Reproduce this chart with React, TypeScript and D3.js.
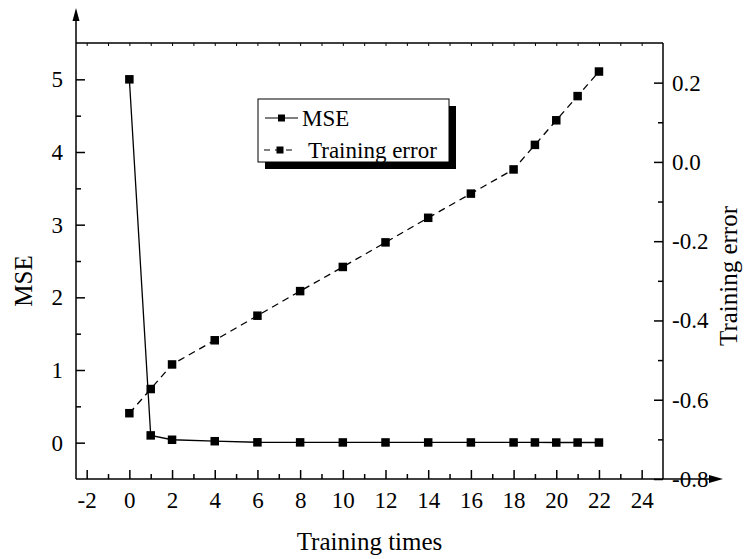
import { useEffect, useRef } from "react";
import * as d3 from "d3";

// training runs on the x axis
const trainingTimes = [0, 1, 2, 4, 6, 8, 10, 12, 14, 16, 18, 19, 20, 21, 22];
// left axis series
const mseValues = [5.0, 0.1, 0.04, 0.02, 0.005, 0.004, 0.003, 0.003, 0.003, 0.003, 0.003, 0.003, 0.002, 0.002, 0.002];
// right axis series
const trainingError = [-0.634, -0.573, -0.511, -0.45, -0.388, -0.326, -0.265, -0.203, -0.141, -0.08, -0.019, 0.043, 0.105, 0.166, 0.228];

const xTicks = [-2, 0, 2, 4, 6, 8, 10, 12, 14, 16, 18, 20, 22, 24];
const xMinorTicks = [-1, 1, 3, 5, 7, 9, 11, 13, 15, 17, 19, 21, 23];
const topTicks = d3.range(-2, 25, 1);
const mseTicks = [0, 1, 2, 3, 4, 5];
const mseMinorTicks = [0.5, 1.5, 2.5, 3.5, 4.5];
const errTicks = [-0.8, -0.6, -0.4, -0.2, 0.0, 0.2];
const errMinorTicks = [-0.7, -0.5, -0.3, -0.1, 0.1];

const legendItems = ["MSE", "Training error"];

const FONT = "'Liberation Serif', 'Times New Roman', serif";

const hyphen = (s: string) => s.replace(/\u2212/g, "-");

const App = () => {
  const ref = useRef<SVGSVGElement>(null);

  useEffect(() => {
    const svg = d3.select(ref.current);
    svg.selectAll("*").remove();

    const left = 76,
      right = 663,
      top = 43,
      bottom = 479;

    const x = d3.scaleLinear().domain([-2.5, 25]).range([left, right]);
    const yL = d3.scaleLinear().domain([-0.5, 5.5]).range([bottom, top]);
    const yR = d3.scaleLinear().domain([-0.8, 0.3]).range([bottom, top]);

    const styleAxis = (g) => {
      g.select(".domain").remove();
      g.selectAll("line").attr("stroke", "#000").attr("stroke-width", 1.5);
      g.selectAll("text")
        .attr("fill", "#000")
        .style("font-family", FONT)
        .style("font-size", "23px");
    };

    // bottom axis
    svg
      .append("g")
      .attr("transform", `translate(0,${bottom})`)
      .call(
        d3
          .axisBottom(x)
          .tickValues(xTicks)
          .tickSize(-9)
          .tickSizeOuter(0)
          .tickPadding(13)
          .tickFormat((d) => hyphen(d3.format("d")(d)))
      )
      .call(styleAxis);
    svg
      .append("g")
      .attr("transform", `translate(0,${bottom})`)
      .call(d3.axisBottom(x).tickValues(xMinorTicks).tickSize(-5).tickSizeOuter(0).tickFormat(() => ""))
      .call(styleAxis);

    // top frame ticks
    svg
      .append("g")
      .attr("transform", `translate(0,${top})`)
      .call(d3.axisTop(x).tickValues(topTicks).tickSize(-3).tickSizeOuter(0).tickFormat(() => ""))
      .call(styleAxis)
      .selectAll("line")
      .attr("stroke-width", 1);

    // left axis
    svg
      .append("g")
      .attr("transform", `translate(${left},0)`)
      .call(
        d3
          .axisLeft(yL)
          .tickValues(mseTicks)
          .tickSize(-9)
          .tickSizeOuter(0)
          .tickPadding(13)
          .tickFormat((d) => hyphen(d3.format("d")(d)))
      )
      .call(styleAxis);
    svg
      .append("g")
      .attr("transform", `translate(${left},0)`)
      .call(d3.axisLeft(yL).tickValues(mseMinorTicks).tickSize(-5).tickSizeOuter(0).tickFormat(() => ""))
      .call(styleAxis);

    // right axis
    svg
      .append("g")
      .attr("transform", `translate(${right},0)`)
      .call(
        d3
          .axisRight(yR)
          .tickValues(errTicks)
          .tickSize(-9)
          .tickSizeOuter(0)
          .tickPadding(9)
          .tickFormat((d) => hyphen(d3.format(".1f")(d)))
      )
      .call(styleAxis);
    svg
      .append("g")
      .attr("transform", `translate(${right},0)`)
      .call(d3.axisRight(yR).tickValues(errMinorTicks).tickSize(-5).tickSizeOuter(0).tickFormat(() => ""))
      .call(styleAxis);

    // frame lines
    const frame = svg.append("g").attr("stroke", "#000").attr("stroke-width", 1.5);
    frame.append("line").attr("x1", left).attr("x2", right).attr("y1", top).attr("y2", top);
    frame.append("line").attr("x1", right).attr("x2", right).attr("y1", top).attr("y2", bottom);
    frame.append("line").attr("x1", left).attr("x2", 712).attr("y1", bottom).attr("y2", bottom);
    frame.append("line").attr("x1", left).attr("x2", left).attr("y1", bottom).attr("y2", 18);

    // arrow heads
    svg
      .append("path")
      .attr("d", `M${left},8 L${left - 3.5},21 L${left + 3.5},21 Z`)
      .attr("fill", "#000");
    svg
      .append("path")
      .attr("d", `M723,${bottom} L709,${bottom - 4} L709,${bottom + 4} Z`)
      .attr("fill", "#000");

    const msePts = trainingTimes.map((t, i) => [t, mseValues[i]]);
    const errPts = trainingTimes.map((t, i) => [t, trainingError[i]]);

    const lineL = d3
      .line()
      .x((d) => x(d[0]))
      .y((d) => yL(d[1]));
    const lineR = d3
      .line()
      .x((d) => x(d[0]))
      .y((d) => yR(d[1]));

    svg
      .append("path")
      .datum(errPts)
      .attr("d", lineR)
      .attr("fill", "none")
      .attr("stroke", "#000")
      .attr("stroke-width", 1.3)
      .attr("stroke-dasharray", "7,5");

    svg
      .append("path")
      .datum(msePts)
      .attr("d", lineL)
      .attr("fill", "none")
      .attr("stroke", "#000")
      .attr("stroke-width", 1.3);

    const sq = 8.5;
    svg
      .append("g")
      .selectAll("rect")
      .data(errPts)
      .enter()
      .append("rect")
      .attr("x", (d) => x(d[0]) - sq / 2)
      .attr("y", (d) => yR(d[1]) - sq / 2)
      .attr("width", sq)
      .attr("height", sq)
      .attr("fill", "#000");

    svg
      .append("g")
      .selectAll("rect")
      .data(msePts)
      .enter()
      .append("rect")
      .attr("x", (d) => x(d[0]) - sq / 2)
      .attr("y", (d) => yL(d[1]) - sq / 2)
      .attr("width", sq)
      .attr("height", sq)
      .attr("fill", "#000");

    // legend
    const lg = svg.append("g").attr("transform", "translate(258,99)");
    lg.append("rect").attr("x", 7).attr("y", 7).attr("width", 191).attr("height", 63).attr("fill", "#000");
    lg.append("rect")
      .attr("x", 0)
      .attr("y", 0)
      .attr("width", 191)
      .attr("height", 63)
      .attr("fill", "#fff")
      .attr("stroke", "#000")
      .attr("stroke-width", 1);

    legendItems.forEach((name, i) => {
      const cy = i === 0 ? 19 : 51;
      const row = lg.append("g");
      row
        .append("line")
        .attr("x1", i === 0 ? 7 : 6)
        .attr("x2", i === 0 ? 40 : 34)
        .attr("y1", cy)
        .attr("y2", cy)
        .attr("stroke", "#000")
        .attr("stroke-width", 1.2)
        .attr("stroke-dasharray", i === 0 ? null : "6,5");
      row
        .append("rect")
        .attr("x", (i === 0 ? 23.5 : 22) - 3.5)
        .attr("y", cy - 3.5)
        .attr("width", 7)
        .attr("height", 7)
        .attr("fill", "#000");
      row
        .append("text")
        .attr("x", i === 0 ? 44 : 50)
        .attr("y", cy + 8)
        .style("font-family", FONT)
        .style("font-size", "23px")
        .text(name);
    });

    // axis titles
    svg
      .append("text")
      .attr("x", (left + right) / 2)
      .attr("y", 550)
      .attr("text-anchor", "middle")
      .style("font-family", FONT)
      .style("font-size", "25px")
      .text("Training times");

    svg
      .append("text")
      .attr("transform", "translate(32,281) rotate(-90)")
      .attr("text-anchor", "middle")
      .style("font-family", FONT)
      .style("font-size", "25px")
      .text("MSE");

    svg
      .append("text")
      .attr("transform", "translate(737,276) rotate(-90)")
      .attr("text-anchor", "middle")
      .style("font-family", FONT)
      .style("font-size", "25px")
      .text("Training error");
  }, []);

  return (
    <svg
      ref={ref}
      width={745}
      height={559}
      style={{ position: "absolute", left: 0, top: 0, background: "#fff" }}
    ></svg>
  );
};

export default App;
